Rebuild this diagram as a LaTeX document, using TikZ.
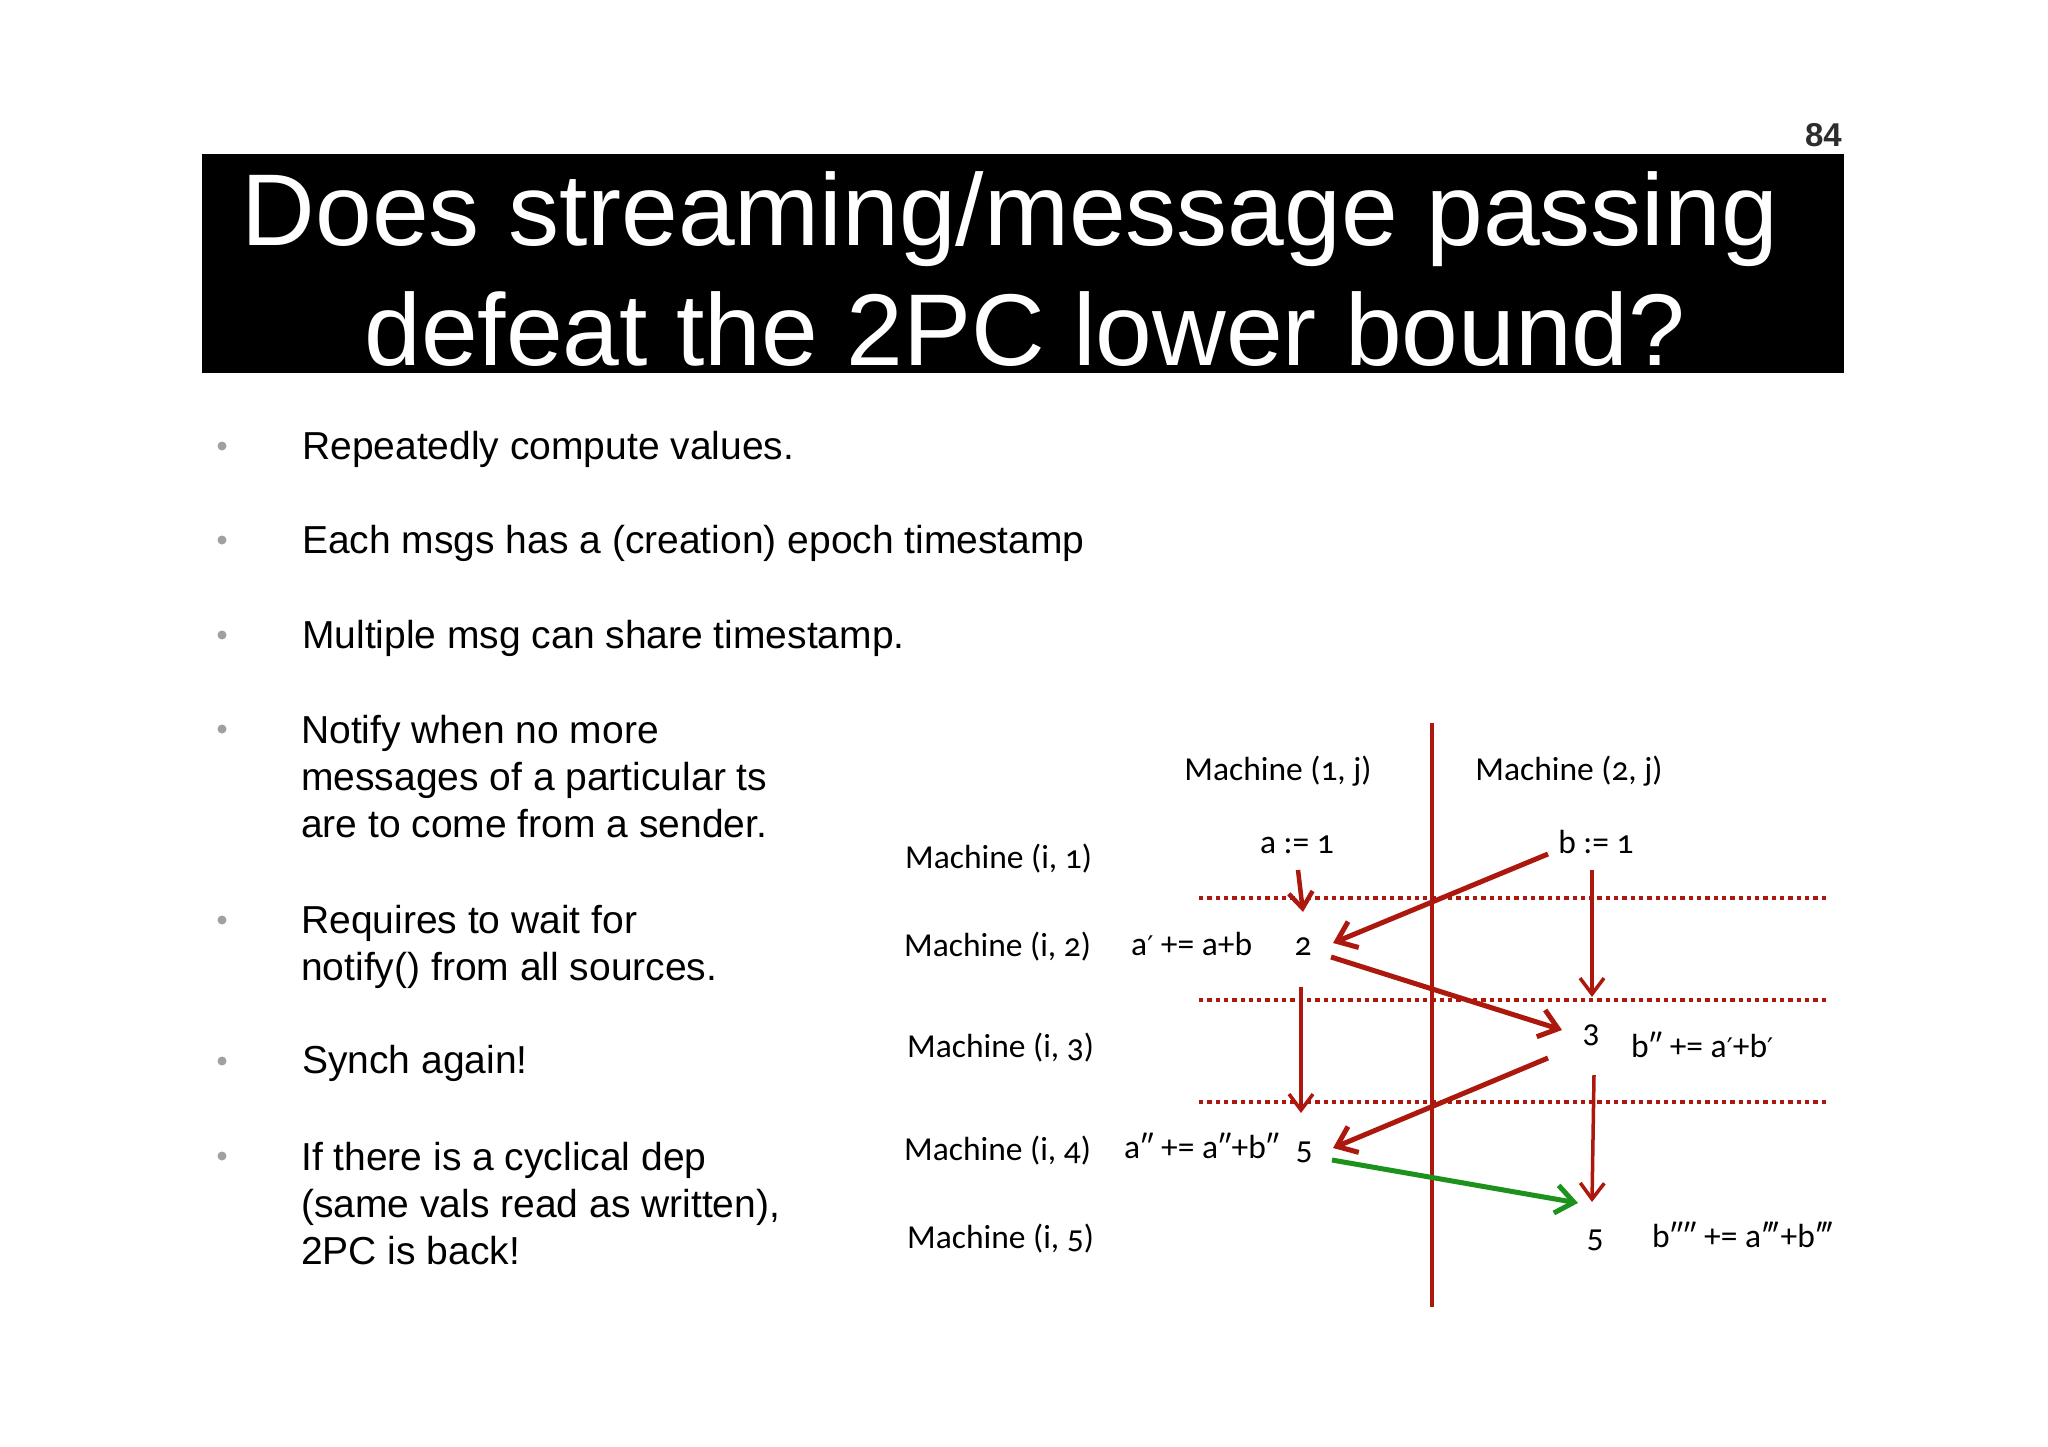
\documentclass[tikz,border=0pt]{standalone}
\usepackage{fontspec}
\setmainfont{Liberation Sans}
\newfontfamily\diagfont[Numbers=OldStyle]{Carlito}
\newfontfamily\primefont{DejaVu Sans}
\newcommand{\pr}{{\primefont\fontsize{27}{30}\selectfont ′}}
\usetikzlibrary{arrows.meta}
\definecolor{dred}{RGB}{172,24,14}
\definecolor{dgreen}{RGB}{28,145,28}
\definecolor{bulgray}{RGB}{160,160,160}
\definecolor{numgray}{RGB}{45,45,45}
\begin{document}
\begin{tikzpicture}[x=1pt,y=-1pt,
  bullettext/.style={anchor=base west, inner sep=0pt, font=\fontsize{39}{47}\selectfont, align=left},
  bulletdot/.style={circle, fill=bulgray, inner sep=0pt, minimum size=9pt},
  dlabel/.style={anchor=base, inner sep=0pt, font=\diagfont\fontsize{33.5}{38}\selectfont},
  syncline/.style={dred, line width=4.5pt, dash pattern=on 4.3pt off 4pt},
  thinarrow/.style={dred, line width=3.5pt, -{Straight Barb[length=16pt,width=24pt]}},
  thickarrow/.style={dred, line width=5pt, -{Straight Barb[length=18pt,width=28pt]}},
  greenarrow/.style={dgreen, line width=5pt, -{Straight Barb[length=18pt,width=28pt]}},
]
\useasboundingbox (0,0) rectangle (2048,1447);
% title
\node[fill=black, anchor=north west, minimum width=1642pt, minimum height=219pt, inner sep=0pt] (titlebox) at (202,154) {};
\node[anchor=base, inner sep=0pt, text=white, align=center, font=\fontsize{102}{120}\selectfont] (title) at (1025,365) {Does streaming/message passing\hspace*{30pt}\\defeat the 2PC lower bound?};
\node[anchor=base east, inner sep=0pt, text=numgray, font=\bfseries\fontsize{33}{33}\selectfont] (pnum) at (1842,147) {84};
% bullets
\node[bulletdot] (d1) at (222,446) {};
\node[bullettext] (b1) at (302,459) {Repeatedly compute values.};
\node[bulletdot] (d2) at (222,540) {};
\node[bullettext] (b2) at (302,553) {Each msgs has a (creation) epoch timestamp};
\node[bulletdot] (d3) at (222,635) {};
\node[bullettext] (b3) at (302,648) {Multiple msg can share timestamp.};
\node[bulletdot] (d4) at (222,729) {};
\node[bullettext] (b4) at (301,837) {Notify when no more\\messages of a particular ts\\are to come from a sender.};
\node[bulletdot] (d5) at (222,920) {};
\node[bullettext] (b5) at (301,980) {Requires to wait for\\notify() from all sources.};
\node[bulletdot] (d6) at (222,1061) {};
\node[bullettext] (b6) at (302,1073) {Synch again!};
\node[bulletdot] (d7) at (222,1156) {};
\node[bullettext] (b7) at (301,1264) {If there is a cyclical dep\\(same vals read as written),\\2PC is back!};
% diagram labels
\node[dlabel] (h1) at (1278,780) {Machine (1, j)};
\node[dlabel] (h2) at (1569,780) {Machine (2, j)};
\node[dlabel, anchor=base west] (r1) at (905,868) {Machine (i, 1)};
\node[dlabel, anchor=base west] (r2) at (904,956) {Machine (i, 2)};
\node[dlabel, anchor=base west] (r3) at (907,1057) {Machine (i, 3)};
\node[dlabel, anchor=base west] (r4) at (904,1160) {Machine (i, 4)};
\node[dlabel, anchor=base west] (r5) at (907,1248) {Machine (i, 5)};
\node[dlabel] (ainit) at (1297,853) {a := 1};
\node[dlabel] (binit) at (1596,853) {b := 1};
\node[dlabel, anchor=base west] (aupd1) at (1131,955) {a\pr\ += a+b};
\node[dlabel] (t2) at (1303,955) {2};
\node[dlabel] (t3) at (1591,1042) {3};
\node[dlabel, anchor=base west] (bupd1) at (1631,1057) {b″ += a\pr+b\pr};
\node[dlabel, anchor=base west] (aupd2) at (1124,1158) {a″ += a″+b″};
\node[dlabel] (t5a) at (1304,1159) {5};
\node[dlabel] (t5b) at (1595,1247) {5};
\node[dlabel, anchor=base west] (bupd2) at (1652,1247) {b″″ += a‴+b‴};
% separator and sync lines
\coordinate (vtop) at (1432,723);
\coordinate (vbot) at (1432,1307);
\draw[dred, line width=4pt] (vtop) -- (vbot);
\coordinate (s1l) at (1199,898); \coordinate (s1r) at (1827,898);
\coordinate (s2l) at (1199,1000); \coordinate (s2r) at (1827,1000);
\coordinate (s3l) at (1199,1102); \coordinate (s3r) at (1827,1102);
\draw[syncline] (s1l) -- (s1r);
\draw[syncline] (s2l) -- (s2r);
\draw[syncline] (s3l) -- (s3r);
% arrows
\coordinate (a1s) at (1298,870); \coordinate (a1e) at (1303,912);
\coordinate (a2s) at (1548,854); \coordinate (a2e) at (1333,943);
\coordinate (a3s) at (1592,870); \coordinate (a3e) at (1592,997);
\coordinate (a4s) at (1331,957); \coordinate (a4e) at (1562,1030);
\coordinate (a5s) at (1301,987); \coordinate (a5e) at (1301,1113);
\coordinate (a6s) at (1548,1058); \coordinate (a6e) at (1333,1148);
\coordinate (a7s) at (1594,1075); \coordinate (a7e) at (1592,1202);
\coordinate (a8s) at (1332,1160); \coordinate (a8e) at (1578,1203);
\draw[thinarrow, line width=4.5pt] (a1s) -- (a1e);
\draw[thickarrow] (a2s) -- (a2e);
\draw[thinarrow] (a3s) -- (a3e);
\draw[thickarrow] (a4s) -- (a4e);
\draw[thinarrow] (a5s) -- (a5e);
\draw[thickarrow] (a6s) -- (a6e);
\draw[thinarrow] (a7s) -- (a7e);
\draw[greenarrow] (a8s) -- (a8e);
\end{tikzpicture}
\end{document}
